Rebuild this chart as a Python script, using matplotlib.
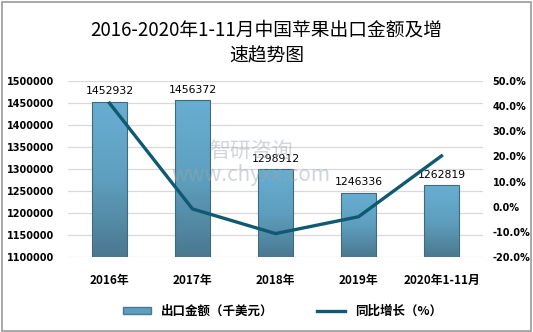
import numpy as np
import matplotlib.pyplot as plt
from matplotlib.colors import LinearSegmentedColormap
from matplotlib.patches import Patch, Rectangle
from matplotlib.lines import Line2D
from matplotlib.ticker import FuncFormatter

plt.rcParams['font.family'] = ['Noto Sans CJK SC', 'DejaVu Sans']

years = ['2016年', '2017年', '2018年', '2019年', '2020年1-11月']
export_value = [1452932, 1456372, 1298912, 1246336, 1262819]
growth = [41.2, -0.9, -10.7, -4.0, 20.2]

bar_cmap = LinearSegmentedColormap.from_list('bar', ['#4b7890', '#5e9fbf', '#68aed2'])
line_color = '#0f5a72'

fig = plt.figure(figsize=(5.33, 3.32), dpi=100)
fig.patches.append(Rectangle((0.004, 0.004), 0.992, 0.99, transform=fig.transFigure,
                             fill=False, edgecolor='#9a9a9a', linewidth=1.2))

ax = fig.add_axes([0.1276, 0.226, 0.7786, 0.530])
x = np.arange(len(years))
bars = ax.bar(x, export_value, width=0.41, facecolor='none', edgecolor='#3f6a80',
              linewidth=0.8, zorder=3)
grad = np.linspace(0, 1, 256).reshape(-1, 1)
for b in bars:
    im = ax.imshow(grad, extent=[b.get_x(), b.get_x() + b.get_width(), 1100000, b.get_height()],
                   origin='lower', aspect='auto', cmap=bar_cmap, zorder=2)
    im.set_clip_path(b)

for xi, v in zip(x, export_value):
    ax.text(xi, v + 12000, str(v), ha='center', va='bottom', fontsize=7.8,
            family=['DejaVu Sans'], zorder=5)

ax.set_xlim(-0.5, 4.5)
ax.set_ylim(1100000, 1500000)
ax.set_yticks(np.arange(1100000, 1500001, 50000))
ax.yaxis.set_major_formatter(FuncFormatter(lambda v, p: '%d' % v))
ax.yaxis.grid(True, color='#d9d9d9', linewidth=0.9, zorder=0)
ax.set_axisbelow(True)
ax.set_xticks(x)
ax.set_xticklabels(years, fontsize=8.5, fontweight='bold')
for lab in ax.get_yticklabels():
    lab.set_fontsize(7)
    lab.set_fontweight('bold')
    lab.set_family(['DejaVu Sans'])
ax.tick_params(length=0, pad=10)
ax.tick_params(axis='x', pad=12)
for s in ax.spines.values():
    s.set_visible(False)

ax2 = ax.twinx()
ax2.plot(x, growth, color=line_color, linewidth=2.4, zorder=4)
ax2.set_ylim(-20, 50)
ax2.set_yticks(np.arange(-20, 51, 10))
ax2.yaxis.set_major_formatter(FuncFormatter(lambda v, p: '%.1f%%' % v))
for lab in ax2.get_yticklabels():
    lab.set_fontsize(7)
    lab.set_fontweight('bold')
    lab.set_family(['DejaVu Sans'])
ax2.tick_params(length=0, pad=7)
for s in ax2.spines.values():
    s.set_visible(False)

fig.text(0.5, 0.87, '2016-2020年1-11月中国苹果出口金额及增\n速趋势图', ha='center', va='center',
         fontsize=13.5, linespacing=1.3)

fig.text(0.47, 0.51, '智研咨询\nwww.chyxx.com', ha='center', va='center', fontsize=15,
         color='#9aa4ad', alpha=0.45, linespacing=1.1, zorder=10)

handles = [Patch(facecolor='#5e9fbf', edgecolor='#4b7890'),
           Line2D([0], [0], color=line_color, linewidth=2.4)]
fig.legend(handles, ['出口金额（千美元）', '同比增长（%）'], loc='center',
           bbox_to_anchor=(0.53, 0.063), ncol=2, frameon=False, handlelength=2.2,
           handleheight=0.5, columnspacing=3.5, prop={'size': 9, 'weight': 'bold'})

fig.savefig('out.png', dpi=100)
